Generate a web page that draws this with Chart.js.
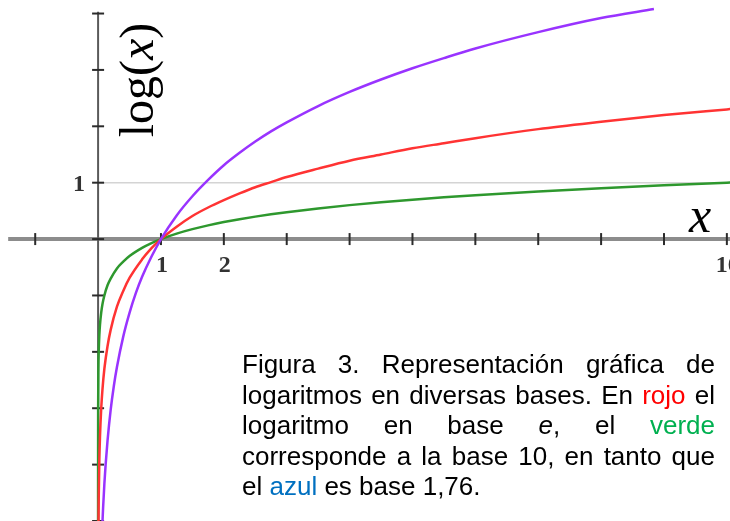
<!DOCTYPE html>
<html lang="es">
<head>
<meta charset="utf-8">
<title>Logaritmos en diversas bases</title>
<script src="https://cdn.jsdelivr.net/npm/chart.js@4.4.1/dist/chart.umd.min.js"></script>
<style>
  html, body { margin: 0; padding: 0; background: #fff; }
  #wrap { position: relative; width: 730px; height: 521px; overflow: hidden; }
  #grafico { position: absolute; left: 0; top: 0; }
  #leyenda {
    position: absolute; left: 242px; top: 349px; width: 473px;
    font-family: "Liberation Sans", Arial, sans-serif; font-size: 26px;
    line-height: 30.5px; color: #000;
  }
  #leyenda .linea { display: block; text-align: justify; text-align-last: justify; }
  #leyenda .ultima { text-align-last: left; }
  .rojo { color: #ff0000; }
  .verde { color: #00b050; }
  .azul { color: #0070c0; }
</style>
</head>
<body>
<div id="wrap">
  <canvas id="grafico" width="730" height="521"></canvas>
  <div id="leyenda">
    <span class="linea">Figura 3. Representación gráfica de</span>
    <span class="linea">logaritmos en diversas bases. En <span class="rojo">rojo</span> el</span>
    <span class="linea">logaritmo en base <i>e</i>, el <span class="verde">verde</span></span>
    <span class="linea">corresponde a la base 10, en tanto que</span>
    <span class="linea ultima">el <span class="azul">azul</span> es base 1,76.</span>
  </div>
</div>
<script>
// base 1,7 (morado)
const xMorado = [0.07, 0.08, 0.1, 0.12, 0.15, 0.2, 0.25, 0.3, 0.4, 0.5, 0.6, 0.7, 0.85, 1, 1.25, 1.5, 1.75, 2, 2.25, 2.5, 2.75, 3, 3.5, 4, 4.5, 5, 5.5, 6, 7, 8, 8.84];
const yMorado = [-5.01, -4.76, -4.34, -4.0, -3.58, -3.03, -2.61, -2.27, -1.73, -1.31, -0.96, -0.67, -0.31, 0, 0.42, 0.76, 1.05, 1.31, 1.53, 1.73, 1.91, 2.07, 2.36, 2.61, 2.83, 3.03, 3.21, 3.38, 3.67, 3.92, 4.08];

// base e (rojo)
const xRojo = [0.0067, 0.01, 0.02, 0.03, 0.05, 0.07, 0.1, 0.15, 0.2, 0.3, 0.4, 0.5, 0.7, 0.85, 1, 1.25, 1.5, 1.75, 2, 2.25, 2.5, 2.75, 3, 3.5, 4, 4.5, 5, 5.5, 6, 7, 8, 9, 10, 10.1];
const yRojo = [-5.0, -4.61, -3.91, -3.51, -3.0, -2.66, -2.3, -1.9, -1.61, -1.2, -0.92, -0.69, -0.36, -0.16, 0, 0.22, 0.41, 0.56, 0.69, 0.81, 0.92, 1.01, 1.1, 1.25, 1.39, 1.5, 1.61, 1.7, 1.79, 1.95, 2.08, 2.2, 2.3, 2.31];

// base 10 (verde)
const xVerde = [0.00001, 0.0001, 0.001, 0.005, 0.01, 0.02, 0.03, 0.05, 0.07, 0.1, 0.15, 0.2, 0.3, 0.4, 0.5, 0.7, 0.85, 1, 1.25, 1.5, 1.75, 2, 2.25, 2.5, 2.75, 3, 3.5, 4, 4.5, 5, 5.5, 6, 7, 8, 9, 10, 10.1];
const yVerde = [-5.0, -4.0, -3.0, -2.3, -2.0, -1.7, -1.52, -1.3, -1.15, -1.0, -0.82, -0.7, -0.52, -0.4, -0.3, -0.155, -0.07, 0, 0.097, 0.176, 0.243, 0.301, 0.352, 0.398, 0.439, 0.477, 0.544, 0.602, 0.653, 0.699, 0.74, 0.778, 0.845, 0.903, 0.954, 1.0, 1.004];

const marcasX = [-1, 1, 2, 3, 4, 5, 6, 7, 8, 9, 10];
const marcasY = [4, 3, 2, 1, 0, -1, -2, -3, -4, -5];
const etiquetasX = [1, 2, 10];
const etiquetasY = [1];
const lineaGuiaY = 1;

function puntos(xs, ys) {
    return xs.map((x, i) => ({ x: x, y: ys[i] }));
}

const ejes = {
    id: "ejes",
    beforeDatasetsDraw(chart) {
        const ctx = chart.ctx;
        const sx = chart.scales.x;
        const sy = chart.scales.y;
        const x0 = sx.getPixelForValue(0);
        const y0 = sy.getPixelForValue(0);
        const der = chart.chartArea.right;
        ctx.save();

        // linea guia en y = 1
        ctx.strokeStyle = "#d4d4d4";
        ctx.lineWidth = 1.5;
        ctx.beginPath();
        ctx.moveTo(x0, sy.getPixelForValue(lineaGuiaY));
        ctx.lineTo(der, sy.getPixelForValue(lineaGuiaY));
        ctx.stroke();

        // eje x (gris grueso)
        ctx.strokeStyle = "#8c8c8c";
        ctx.lineWidth = 4;
        ctx.beginPath();
        ctx.moveTo(sx.getPixelForValue(-1.43), y0);
        ctx.lineTo(der, y0);
        ctx.stroke();

        // eje y
        ctx.strokeStyle = "#5a5a5a";
        ctx.lineWidth = 2;
        ctx.beginPath();
        ctx.moveTo(x0, sy.getPixelForValue(4.03));
        ctx.lineTo(x0, chart.chartArea.bottom);
        ctx.stroke();

        // marcas
        ctx.strokeStyle = "#2b2b2b";
        ctx.lineWidth = 2;
        marcasX.forEach(v => {
            const px = sx.getPixelForValue(v);
            ctx.beginPath();
            ctx.moveTo(px, y0 - 6);
            ctx.lineTo(px, y0 + 6);
            ctx.stroke();
        });
        marcasY.forEach(v => {
            const py = sy.getPixelForValue(v);
            ctx.beginPath();
            ctx.moveTo(x0 - 6, py);
            ctx.lineTo(x0 + 6, py);
            ctx.stroke();
        });

        // etiquetas
        ctx.fillStyle = "#333";
        ctx.font = "bold 24px 'Liberation Serif', serif";
        ctx.textAlign = "center";
        ctx.textBaseline = "alphabetic";
        etiquetasX.forEach(v => {
            ctx.fillText(String(v), sx.getPixelForValue(v) + 1, y0 + 33);
        });
        ctx.textAlign = "right";
        etiquetasY.forEach(v => {
            ctx.fillText(String(v), x0 - 13, sy.getPixelForValue(v) + 8);
        });

        // titulo eje y: log(x)
        ctx.fillStyle = "#000";
        ctx.translate(153, 80);
        ctx.rotate(-Math.PI / 2);
        const fNormal = "48px 'Liberation Serif', serif";
        const fItalica = "italic 48px 'Liberation Serif', serif";
        ctx.font = fNormal;
        const w1 = ctx.measureText("log(").width;
        const w3 = ctx.measureText(")").width;
        ctx.font = fItalica;
        const w2 = ctx.measureText("x").width;
        let inicio = -(w1 + w2 + w3) / 2;
        ctx.textAlign = "left";
        ctx.font = fNormal;
        ctx.fillText("log(", inicio, 0);
        ctx.font = fItalica;
        ctx.fillText("x", inicio + w1, 0);
        ctx.font = fNormal;
        ctx.fillText(")", inicio + w1 + w2, 0);
        ctx.setTransform(1, 0, 0, 1, 0, 0);

        // titulo eje x
        ctx.font = "italic 50px 'Liberation Serif', serif";
        ctx.textAlign = "center";
        ctx.fillText("x", 700, 232);
        ctx.restore();
    }
};

new Chart(document.getElementById("grafico"), {
    type: "scatter",
    data: {
        datasets: [
            {
                label: "base 1,7",
                data: puntos(xMorado, yMorado),
                borderColor: "#9933ff",
                borderWidth: 2.5,
                showLine: true,
                pointRadius: 0,
                cubicInterpolationMode: "monotone"
            },
            {
                label: "base e",
                data: puntos(xRojo, yRojo),
                borderColor: "#ff3333",
                borderWidth: 2.5,
                showLine: true,
                pointRadius: 0,
                cubicInterpolationMode: "monotone"
            },
            {
                label: "base 10",
                data: puntos(xVerde, yVerde),
                borderColor: "#2e982e",
                borderWidth: 2.5,
                showLine: true,
                pointRadius: 0,
                cubicInterpolationMode: "monotone"
            }
        ]
    },
    options: {
        responsive: false,
        animation: false,
        layout: { padding: 0 },
        plugins: {
            legend: { display: false },
            tooltip: { enabled: false }
        },
        scales: {
            x: { type: "linear", min: -1.56, max: 10.05, display: false },
            y: { type: "linear", min: -5.0, max: 4.24, display: false }
        }
    },
    plugins: [ejes]
});
</script>
</body>
</html>
